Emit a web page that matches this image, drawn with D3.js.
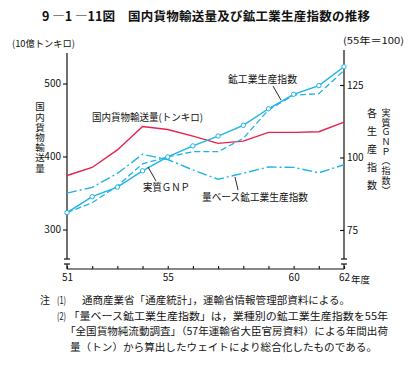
<!DOCTYPE html>
<html><head><meta charset="utf-8">
<script src="https://cdn.jsdelivr.net/npm/d3@7"></script>
<style>
html,body{margin:0;padding:0;background:#fff;}
text{font-family:"Noto Sans CJK JP","Noto Sans",sans-serif;fill:#111;}
</style></head>
<body><svg id="c" width="416" height="371"></svg>
<script>
// ---- data ----
const years = [51,52,53,54,55,56,57,58,59,60,61,62];
const freight = [374,385,409,441,437,428,418,421,433,433,434,447];      // 国内貨物輸送量 (10億トンキロ)
const gnp = [81.0,86.5,89.8,95.4,100.2,104.0,107.4,111.1,116.8,121.8,124.8,131.3]; // 実質GNP
const iip = [81.0,84.4,90.2,97.8,100.2,102.0,102.0,106.6,116.4,121.5,122.0,130.0]; // 鉱工業生産指数
const volIip = [87.7,89.7,94.5,101.1,99.3,95.7,92.5,94.6,96.7,96.6,94.7,97.5]; // 量ベース鉱工業生産指数
const leftTicks = [300,400,500];
const rightTicks = [75,100,125];
const xLabels = {51:"51",55:"55",60:"60",62:"62"};

const RED = "#e8204c", CYAN = "#1cb4e6";
const svg = d3.select("#c");
const x = d3.scaleLinear().domain([51,62]).range([67,344]);
const yL = d3.scaleLinear().domain([300,500]).range([229.5,83.5]);
const yR = d3.scaleLinear().domain([75,125]).range([230,85]);
const axisY = 269;

// title
svg.append("text").attr("x",42).attr("y",21).attr("font-size",12.5).attr("font-weight","bold")
  .attr("textLength",73).attr("lengthAdjust","spacingAndGlyphs").text("9 ―1 ―11図");
svg.append("text").attr("x",128).attr("y",21).attr("font-size",12.5).attr("font-weight","bold")
  .attr("textLength",242).attr("lengthAdjust","spacing").text("国内貨物輸送量及び鉱工業生産指数の推移");

// units
svg.append("text").attr("x",12).attr("y",47).attr("font-size",9.5).attr("textLength",63).attr("lengthAdjust","spacingAndGlyphs").text("(10億トンキロ)");
svg.append("text").attr("x",343).attr("y",44).attr("font-size",9.5).attr("textLength",61).attr("lengthAdjust","spacingAndGlyphs").text("(55年＝100)");

// axis lines with break
const ax = svg.append("g").attr("stroke","#111").attr("stroke-width",1.2).attr("fill","none");
ax.append("line").attr("x1",67).attr("x2",67).attr("y1",53).attr("y2",259);
ax.append("line").attr("x1",64).attr("x2",70).attr("y1",259).attr("y2",259);
ax.append("line").attr("x1",64).attr("x2",70).attr("y1",264).attr("y2",264);
ax.append("line").attr("x1",67).attr("x2",67).attr("y1",264).attr("y2",axisY);
ax.append("line").attr("x1",344).attr("x2",344).attr("y1",50).attr("y2",259);
ax.append("line").attr("x1",341).attr("x2",347).attr("y1",259).attr("y2",259);
ax.append("line").attr("x1",341).attr("x2",347).attr("y1",264).attr("y2",264);
ax.append("line").attr("x1",344).attr("x2",344).attr("y1",264).attr("y2",axisY);
ax.append("line").attr("x1",67).attr("x2",344).attr("y1",axisY).attr("y2",axisY);

// left axis
const gl = svg.append("g").attr("transform","translate(67,0)")
  .call(d3.axisLeft(yL).tickValues(leftTicks).tickSize(4).tickPadding(2));
gl.select(".domain").remove();
// right axis
const gr = svg.append("g").attr("transform","translate(344,0)")
  .call(d3.axisRight(yR).tickValues(rightTicks).tickSize(-4).tickPadding(3));
gr.select(".domain").remove();
// bottom axis
const gb = svg.append("g").attr("transform",`translate(0,${axisY})`)
  .call(d3.axisBottom(x).tickValues(years).tickSize(-3).tickPadding(5).tickFormat(d=>xLabels[d]||""));
gb.select(".domain").remove();
[gl,gr,gb].forEach(g=>{
  g.selectAll("line").attr("stroke","#111").attr("stroke-width",1.1);
  g.selectAll("text").attr("font-size",10).attr("fill","#111").style("font-family","'Noto Sans CJK JP',sans-serif");
});
svg.append("text").attr("x",351).attr("y",282.5).attr("font-size",9.5).text("年度");

// vertical axis titles (vertical writing)
function vtext(t, xc, ytop, fs, ls){
  svg.append("text").attr("x",xc).attr("y",ytop).attr("font-size",fs)
    .style("writing-mode","vertical-rl").style("letter-spacing",ls+"px").text(t);
}
vtext("国内貨物輸送量",40,102,9.5,0.7);
vtext("各生産指数",372,108,10,8.1);
vtext("実質ＧＮＰ（指数）",386,108,9,0.7);

// lines
const lineL = d3.line().x((d,i)=>x(years[i])).y(d=>yL(d));
const lineR = d3.line().x((d,i)=>x(years[i])).y(d=>yR(d));
svg.append("path").datum(freight).attr("d",lineL).attr("fill","none").attr("stroke",RED).attr("stroke-width",1.4);
svg.append("path").datum(volIip).attr("d",lineR).attr("fill","none").attr("stroke",CYAN).attr("stroke-width",1.4)
  .attr("stroke-dasharray","10,3,2,3");
svg.append("path").datum(iip).attr("d",lineR).attr("fill","none").attr("stroke",CYAN).attr("stroke-width",1.3)
  .attr("stroke-dasharray","6,3");
svg.append("path").datum(gnp).attr("d",lineR).attr("fill","none").attr("stroke",CYAN).attr("stroke-width",1.4);
svg.append("g").selectAll("circle").data(gnp).join("circle")
  .attr("cx",(d,i)=>x(years[i])).attr("cy",d=>yR(d)).attr("r",2.2)
  .attr("fill","#fff").attr("stroke",CYAN).attr("stroke-width",1);

// annotations
function label(t,x0,yb,w,fs){
  svg.append("text").attr("x",x0).attr("y",yb).attr("font-size",fs||10)
    .attr("textLength",w).attr("lengthAdjust","spacingAndGlyphs").text(t);
}
label("国内貨物輸送量(トンキロ)",92,121,111);
label("鉱工業生産指数",228,83,69);
label("実質ＧＮＰ",143,190.5,47);
label("量ベース鉱工業生産指数",202,200.5,106);
const pl = svg.append("g").attr("stroke","#111").attr("stroke-width",0.9);
pl.append("line").attr("x1",273).attr("y1",86).attr("x2",281).attr("y2",100);
pl.append("line").attr("x1",156).attr("y1",181).attr("x2",148).attr("y2",167);
pl.append("line").attr("x1",238).attr("y1",190).attr("x2",235).attr("y2",177);

// notes
label("注",40,304,10,10);
label("(1)",57,304,9,10);
label("通商産業省「通産統計」，運輸省情報管理部資料による。",82,304,268,10);
label("(2)",57,319.5,9,10);
label("「量ベース鉱工業生産指数」は，業種別の鉱工業生産指数を55年",68.5,319.5,319.5,10);
label("「全国貨物純流動調査」（57年運輸省大臣官房資料）による年間出荷",65,335,323,10);
label("量（トン）から算出したウェイトにより総合化したものである。",70,350.5,307,10);
</script></body></html>
